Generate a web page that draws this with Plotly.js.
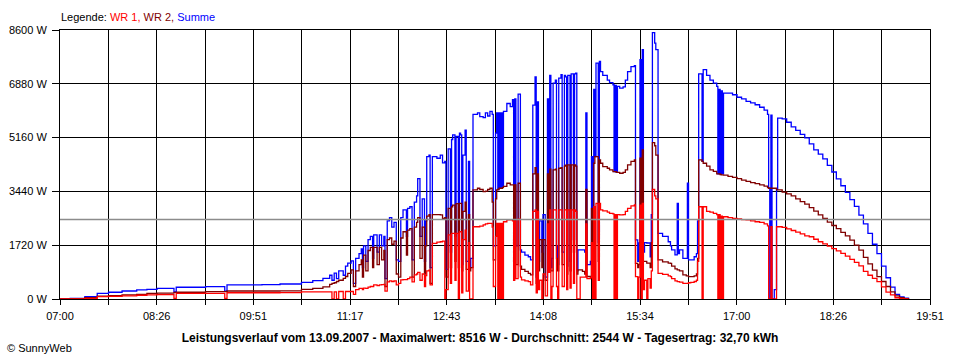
<!DOCTYPE html>
<html>
<head>
<meta charset="utf-8">
<script src="https://cdn.plot.ly/plotly-3.0.1.min.js"></script>
<style>
  html, body { margin: 0; padding: 0; background: #ffffff; }
  #chart { width: 960px; height: 360px; }
</style>
</head>
<body>
<div id="chart"></div>
<script>
// ---- Data (time of day, watts) ----
const DAY = "2007-09-13";

const times = [
  "07:00","07:09","07:22","07:33","07:43","07:55","08:08","08:17","08:26","08:41","08:43","09:09","09:26","09:28","09:59","10:15","10:34","10:44","10:53","10:59",
  "11:01","11:03","11:05","11:07","11:11","11:13","11:15","11:18","11:20","11:22","11:25","11:27","11:28","11:29","11:31","11:33","11:35","11:37","11:38","11:41",
  "11:43","11:45","11:47","11:48","11:50","11:52","11:54","11:56","11:58","12:00","12:02","12:04","12:07","12:08","12:10","12:12","12:14","12:16","12:17","12:19",
  "12:21","12:23","12:24","12:25","12:27","12:28","12:30","12:34","12:37","12:39","12:41","12:42","12:44","12:46","12:47","12:48","12:50","12:51","12:53","12:54",
  "12:55","12:56","12:57","12:59","13:00","13:02","13:03","13:04","13:06","13:10","13:12","13:15","13:17","13:19","13:21","13:23","13:24","13:26","13:27","13:28",
  "13:29","13:30","13:31","13:32","13:33","13:36","13:39","13:41","13:42","13:43","13:44","13:46","13:48","13:49","13:52","13:55","13:57","13:59","14:01","14:02",
  "14:03","14:04","14:05","14:07","14:08","14:10","14:12","14:13","14:14","14:15","14:16","14:17","14:19","14:20","14:21","14:22","14:24","14:25","14:27","14:28",
  "14:29","14:30","14:32","14:33","14:35","14:36","14:37","14:38","14:39","14:41","14:43","14:45","14:46","14:47","14:50","14:51","14:52","14:53","14:54","14:55",
  "14:57","14:58","14:59","15:01","15:05","15:07","15:10","15:11","15:12","15:13","15:14","15:16","15:19","15:21","15:23","15:26","15:29","15:30","15:32","15:33",
  "15:34","15:35","15:36","15:37","15:38","15:40","15:41","15:43","15:44","15:45","15:47","15:48","15:50","15:54","15:59","16:01","16:02","16:05","16:07","16:08",
  "16:09","16:12","16:15","16:16","16:17","16:19","16:22","16:24","16:25","16:26","16:29","16:30","16:33","16:36","16:39","16:42","16:43","16:44","16:45","16:46",
  "16:47","16:48","16:52","16:56","17:00","17:04","17:08","17:12","17:16","17:20","17:24","17:27",
  "17:28","17:29","17:30","17:31","17:33","17:35","17:36",
  "17:40","17:44","17:48","17:52","17:56","18:00","18:04","18:08","18:12","18:16","18:20","18:24","18:28","18:32","18:36","18:40",
  "18:44","18:48","18:52","18:56","19:00","19:04","19:08","19:12","19:16","19:20","19:24","19:28","19:32"
];

const summe = [
  0,20,75,180,215,255,290,310,340,230,375,395,250,450,460,480,530,590,660,760,
  600,830,650,900,760,1050,1150,1220,500,1300,1450,1600,1000,1700,1200,1900,2000,1300,2050,1500,
  2050,1700,2000,650,2500,2600,2300,2450,1250,1200,2600,2850,2000,2900,2950,1250,3100,3300,3850,2000,
  3200,1200,2500,4550,4600,1000,4550,4500,4600,4350,4400,950,4800,1500,5100,5250,2000,5200,1700,5300,
  5250,1100,4600,5400,1200,4400,1000,1300,5900,5950,5830,5800,5950,5850,6000,5900,1700,5300,5950,3500,
  5950,3550,5950,3600,6000,6250,6150,6370,1780,6400,1700,6550,1570,1500,1400,1350,1250,6200,7100,700,
  6300,1200,2500,1500,2700,700,6400,2800,7150,1000,1300,6900,7000,1700,1100,7060,7170,1500,7150,7100,
  1050,7150,1200,7200,1900,7200,7220,900,1570,1570,1570,1500,5950,1100,1200,4550,1350,6700,4550,7540,
  1800,7600,7270,7150,7000,6920,6850,4070,6830,4050,6800,6740,6780,7000,7270,7430,7460,1890,1200,1790,
  7650,1200,7970,1500,1800,1790,1790,1350,2700,8516,8180,7970,2100,2000,1830,1700,1570,1410,3060,1450,
  1570,1300,1300,3700,1250,1250,1350,1450,2500,7200,4400,7330,7150,7000,6900,6800,4000,6700,4000,6650,
  4000,6580,6580,6530,6450,6400,6320,6270,6210,6130,6040,5900,
  3540,0,5880,0,300,3500,5780,
  5760,5650,5500,5390,5260,5150,4960,4770,4630,4480,4270,4060,3840,3620,3410,3180,
  2960,2680,2400,2100,1750,1450,1050,680,380,150,70,30,0
];

const wr2 = [
  0,10,45,95,110,130,150,180,190,210,215,235,235,255,255,260,310,340,385,470,
  500,520,560,600,660,720,820,930,400,900,1100,1250,700,1400,900,1550,1650,1000,1650,1100,
  1650,1250,1550,400,1900,1950,1750,1850,800,700,1950,2150,1400,2200,2250,700,2300,2450,2600,1300,
  2300,800,1700,2650,2700,500,2700,2700,2690,2580,2600,700,2900,1000,2950,3000,1200,3050,1000,3060,
  3060,900,2800,3100,950,2700,900,1000,3490,3540,3500,3430,3450,3500,3540,3100,1250,3200,3490,3500,
  3540,3540,3540,3560,3600,3700,3650,3650,1200,3650,1100,3700,1050,950,880,820,770,4000,4200,500,
  4000,900,1900,1000,1900,600,4000,1950,4150,900,900,4130,4150,1300,900,4180,4200,1100,4250,4280,
  800,4290,900,4290,1500,4290,4250,800,930,930,880,800,3500,720,715,2900,715,4340,4550,4550,
  1200,4450,4340,4230,4180,4130,4075,4070,4070,4050,4050,4020,4050,4130,4290,4400,4450,1140,1000,1100,
  4500,1050,4770,1200,1200,1150,1150,1000,1800,5000,4900,4600,1250,1190,1150,1140,1050,960,930,930,
  900,770,740,740,715,715,740,800,1300,4450,4400,4340,4250,4130,4080,4000,4000,4000,3980,3970,
  3970,3960,3920,3890,3850,3800,3760,3720,3690,3650,3610,3560,
  3540,3540,3540,3540,3540,3490,3490,
  3420,3360,3300,3200,3110,3030,2920,2810,2690,2580,2460,2350,2250,2130,2020,1880,
  1720,1560,1330,1120,920,715,560,400,230,100,40,10,0
];

const wr1 = [
  0,5,20,75,85,100,120,130,140,20,180,180,20,200,200,205,225,225,225,225,
  0,230,0,240,0,240,240,240,150,300,340,340,300,350,340,380,400,400,450,430,
  450,460,470,250,550,580,560,580,450,500,610,620,620,650,700,550,770,800,850,600,
  800,400,750,900,920,450,1780,1820,1830,1850,0,300,2050,500,2100,2100,600,2100,0,2150,
  2150,200,1900,2200,250,1800,0,0,2310,2310,2330,2370,2400,2420,2420,2300,400,2000,2420,0,
  2420,0,2420,0,2470,2530,2530,2500,600,2500,650,2550,700,610,580,555,450,2800,2850,200,
  2800,300,600,0,800,100,2400,850,2850,0,400,2850,2850,400,0,2850,2850,400,2850,2850,
  300,2850,350,2850,500,2850,2800,0,0,700,700,700,2400,650,680,1800,0,2950,0,3060,
  600,3060,2850,2820,2780,2740,2720,0,2700,0,2700,2690,2700,2800,2900,2980,3010,715,0,700,
  3000,0,3060,300,600,0,650,350,900,3500,3300,3200,820,790,740,715,650,580,555,555,
  540,500,500,500,520,530,560,600,1200,2950,0,2950,2800,2780,2740,2700,0,2700,0,2650,
  0,2630,2600,2580,2560,2540,2530,2500,2470,2450,2400,2340,
  0,0,2310,0,0,2310,2310,
  2290,2240,2190,2140,2080,2020,1990,1910,1830,1760,1690,1610,1540,1460,1370,1270,
  1170,1060,880,760,660,555,390,220,130,40,10,0,0
];

const xTickLabels = ["07:00","08:26","09:51","11:17","12:43","14:08","15:34","17:00","18:26","19:51"];
const yTickValues = [0, 1720, 3440, 5160, 6880, 8600];
const average = 2544;
const titleText = "Leistungsverlauf vom 13.09.2007 - Maximalwert: 8516 W - Durchschnitt: 2544 W - Tagesertrag: 32,70 kWh";

// ---- Build ----
const x = times.map(t => DAY + " " + t);
const pad = n => String(n).padStart(2, "0");
function fmt(ms) {
  const d = new Date(ms);
  return d.getUTCFullYear() + "-" + pad(d.getUTCMonth() + 1) + "-" + pad(d.getUTCDate()) + " " +
    pad(d.getUTCHours()) + ":" + pad(d.getUTCMinutes()) + ":" + pad(d.getUTCSeconds());
}
const t0 = Date.UTC(2007, 8, 13, 7, 0);
const t1 = Date.UTC(2007, 8, 13, 19, 51);
const nInt = (xTickLabels.length - 1) * 2;
const tickvals = [], ticktext = [];
for (let i = 0; i <= nInt; i++) {
  tickvals.push(fmt(t0 + (t1 - t0) * i / nInt));
  ticktext.push(i % 2 === 0 ? xTickLabels[i / 2] : "");
}

const FONT = "Liberation Sans, Arial, sans-serif";
const lineW = 1.3;
const traces = [
  { x: x, y: summe, type: "scatter", mode: "lines", line: { color: "#0000ff", width: lineW, shape: "hv" }, name: "Summe" },
  { x: x, y: wr2,   type: "scatter", mode: "lines", line: { color: "#800000", width: lineW, shape: "hv" }, name: "WR 2" },
  { x: x, y: wr1,   type: "scatter", mode: "lines", line: { color: "#ff0000", width: lineW, shape: "hv" }, name: "WR 1" }
];

const layout = {
  width: 960, height: 360,
  margin: { l: 60, r: 30, t: 30, b: 61, pad: 0 },
  paper_bgcolor: "#ffffff", plot_bgcolor: "#ffffff",
  showlegend: false,
  font: { family: FONT, size: 11, color: "#000000" },
  title: {
    text: "<b>" + titleText + "</b>",
    font: { family: FONT, size: 12, color: "#000000" },
    xref: "container", x: 0.5, xanchor: "center",
    yref: "container", y: 1 - 338 / 360, yanchor: "middle"
  },
  xaxis: {
    type: "date",
    range: [fmt(t0), fmt(t1)],
    tickmode: "array", tickvals: tickvals, ticktext: ticktext,
    ticks: "outside", ticklen: 5, tickcolor: "#000000", tickwidth: 1,
    ticklabelstandoff: 2,
    showgrid: true, gridcolor: "#000000", gridwidth: 1,
    showline: true, linecolor: "#000000", linewidth: 1, mirror: true,
    zeroline: false, fixedrange: true,
    tickfont: { family: FONT, size: 11, color: "#000000" }
  },
  yaxis: {
    range: [0, 8600],
    tickmode: "array", tickvals: yTickValues, ticktext: yTickValues.map(v => v + " W"),
    ticks: "outside", ticklen: 7, tickcolor: "#000000", tickwidth: 1,
    ticklabelstandoff: 3,
    showgrid: true, gridcolor: "#000000", gridwidth: 1,
    showline: true, linecolor: "#000000", linewidth: 1, mirror: true,
    zeroline: false, fixedrange: true,
    tickfont: { family: FONT, size: 11, color: "#000000" }
  },
  shapes: [
    { type: "line", xref: "paper", x0: 0, x1: 1, yref: "y", y0: average, y1: average,
      line: { color: "#8c8c8c", width: 1.5 }, layer: "above" }
  ],
  annotations: [
    { xref: "paper", yref: "paper", x: 0, y: 1, xanchor: "left", yanchor: "middle", yshift: 13, xshift: -1,
      showarrow: false, align: "left",
      font: { family: FONT, size: 11, color: "#000000" },
      text: 'Legende: <span style="color:#ff0000">WR 1, </span><span style="color:#800000">WR 2, </span><span style="color:#0000ff">Summe</span>' },
    { xref: "paper", yref: "paper", x: (5 - 60) / 870, y: 0, xanchor: "left", yanchor: "middle", yshift: -49,
      showarrow: false, align: "left",
      font: { family: FONT, size: 11, color: "#000000" },
      text: "© SunnyWeb" }
  ]
};

Plotly.newPlot("chart", traces, layout, { staticPlot: true, displayModeBar: false });
</script>
</body>
</html>
